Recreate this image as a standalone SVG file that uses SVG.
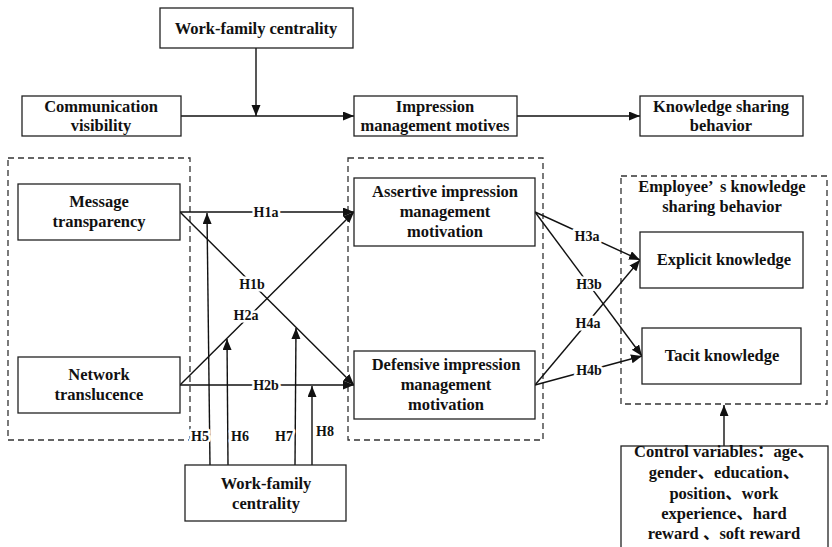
<svg xmlns="http://www.w3.org/2000/svg" width="832" height="547" viewBox="0 0 832 547">
<style>
.box{fill:#fff;stroke:#222;stroke-width:1.3}
.dash{fill:none;stroke:#333;stroke-width:1.3;stroke-dasharray:6,4}
.t{font-family:"Liberation Serif","Noto Sans CJK SC",serif;font-weight:bold;font-size:16.5px;fill:#111;text-anchor:middle}
.lab{font-family:"Liberation Serif",serif;font-weight:bold;font-size:14px;fill:#111;text-anchor:middle;paint-order:stroke;stroke:#fff;stroke-width:5px;stroke-linejoin:round}
.ln{fill:none;stroke:#111;stroke-width:1.4}
</style>
<defs>
<marker id="ah" markerUnits="userSpaceOnUse" markerWidth="12" markerHeight="10" refX="11" refY="4.5" orient="auto">
<path d="M0,0 L11,4.5 L0,9 z" fill="#111"/>
</marker>
</defs>

<g id="dashed-groups">
<rect class="dash" x="8" y="158" width="182" height="282"/>
<rect class="dash" x="348" y="158" width="195" height="282"/>
<rect class="dash" x="621" y="176" width="206" height="228"/>
</g>

<g id="connectors">
<line class="ln" x1="256" y1="48" x2="256" y2="116" marker-end="url(#ah)"/>
<line class="ln" x1="181" y1="116" x2="354" y2="116" marker-end="url(#ah)"/>
<line class="ln" x1="517" y1="116" x2="640" y2="116" marker-end="url(#ah)"/>
<line class="ln" x1="180" y1="212" x2="354" y2="212" marker-end="url(#ah)"/>
<line class="ln" x1="180" y1="212" x2="354" y2="385" marker-end="url(#ah)"/>
<line class="ln" x1="180" y1="385" x2="354" y2="212" marker-end="url(#ah)"/>
<line class="ln" x1="180" y1="385" x2="354" y2="385" marker-end="url(#ah)"/>
<line class="ln" x1="535" y1="212" x2="640" y2="260" marker-end="url(#ah)"/>
<line class="ln" x1="535" y1="212" x2="642" y2="356" marker-end="url(#ah)"/>
<line class="ln" x1="535" y1="385" x2="640" y2="260" marker-end="url(#ah)"/>
<line class="ln" x1="535" y1="385" x2="642" y2="356" marker-end="url(#ah)"/>
<line class="ln" x1="210" y1="465" x2="207" y2="213" marker-end="url(#ah)"/>
<line class="ln" x1="228" y1="465" x2="227" y2="339" marker-end="url(#ah)"/>
<line class="ln" x1="295" y1="465" x2="296" y2="328" marker-end="url(#ah)"/>
<line class="ln" x1="312" y1="465" x2="312" y2="386" marker-end="url(#ah)"/>
<line class="ln" x1="724" y1="446" x2="724" y2="405" marker-end="url(#ah)"/>
<text class="lab" x="266" y="217">H1a</text>
<text class="lab" x="252" y="289">H1b</text>
<text class="lab" x="246" y="320">H2a</text>
<text class="lab" x="266" y="390">H2b</text>
<text class="lab" x="587" y="241">H3a</text>
<text class="lab" x="589" y="289">H3b</text>
<text class="lab" x="588" y="328">H4a</text>
<text class="lab" x="589" y="375">H4b</text>
<text class="lab" x="200" y="441">H5</text>
<text class="lab" x="240" y="441">H6</text>
<text class="lab" x="284" y="441">H7</text>
<text class="lab" x="325" y="436">H8</text>
</g>

<g id="wfc-top">
<rect class="box" x="160" y="8" width="193" height="40"/>
<text class="t" x="256" y="34">Work-family centrality</text>
</g>
<g id="comm-visibility">
<rect class="box" x="22" y="96" width="159" height="40"/>
<text class="t" x="101" y="112">Communication</text>
<text class="t" x="101" y="131">visibility</text>
</g>
<g id="imp-motives">
<rect class="box" x="354" y="96" width="163" height="40"/>
<text class="t" x="435" y="112">Impression</text>
<text class="t" x="435" y="131">management motives</text>
</g>
<g id="ks-behavior">
<rect class="box" x="640" y="96" width="163" height="40"/>
<text class="t" x="721" y="112">Knowledge sharing</text>
<text class="t" x="721" y="131">behavior</text>
</g>
<g id="message-transparency">
<rect class="box" x="18" y="184" width="162" height="56"/>
<text class="t" x="99" y="207">Message</text>
<text class="t" x="99" y="227">transparency</text>
</g>
<g id="network-translucence">
<rect class="box" x="18" y="357" width="162" height="56"/>
<text class="t" x="99" y="380">Network</text>
<text class="t" x="99" y="400">translucence</text>
</g>
<g id="assertive">
<rect class="box" x="354" y="178" width="181" height="68"/>
<text class="t" x="445" y="197">Assertive impression</text>
<text class="t" x="445" y="217">management</text>
<text class="t" x="445" y="237">motivation</text>
</g>
<g id="defensive">
<rect class="box" x="354" y="351" width="181" height="68"/>
<text class="t" x="446" y="370">Defensive impression</text>
<text class="t" x="446" y="390">management</text>
<text class="t" x="446" y="410">motivation</text>
</g>
<g id="employee-ksb">
<text class="t" x="722" y="192">Employee’<tspan dx="7">s knowledge</tspan></text>
<text class="t" x="722" y="212">sharing behavior</text>
</g>
<g id="explicit">
<rect class="box" x="640" y="232" width="163" height="56"/>
<text class="t" x="724" y="265">Explicit knowledge</text>
</g>
<g id="tacit">
<rect class="box" x="642" y="328" width="159" height="56"/>
<text class="t" x="722" y="361">Tacit knowledge</text>
</g>
<g id="wfc-bottom">
<rect class="box" x="185" y="465" width="161" height="56"/>
<text class="t" x="266" y="489">Work-family</text>
<text class="t" x="266" y="509">centrality</text>
</g>
<g id="control-variables">
<rect class="box" x="621" y="446" width="207" height="106"/>
<text class="t" x="724" y="457">Control variables：age、</text>
<text class="t" x="724" y="478">gender、education、</text>
<text class="t" x="724" y="499">position、work</text>
<text class="t" x="724" y="519">experience、hard</text>
<text class="t" x="724" y="539">reward 、soft reward</text>
</g>
</svg>
